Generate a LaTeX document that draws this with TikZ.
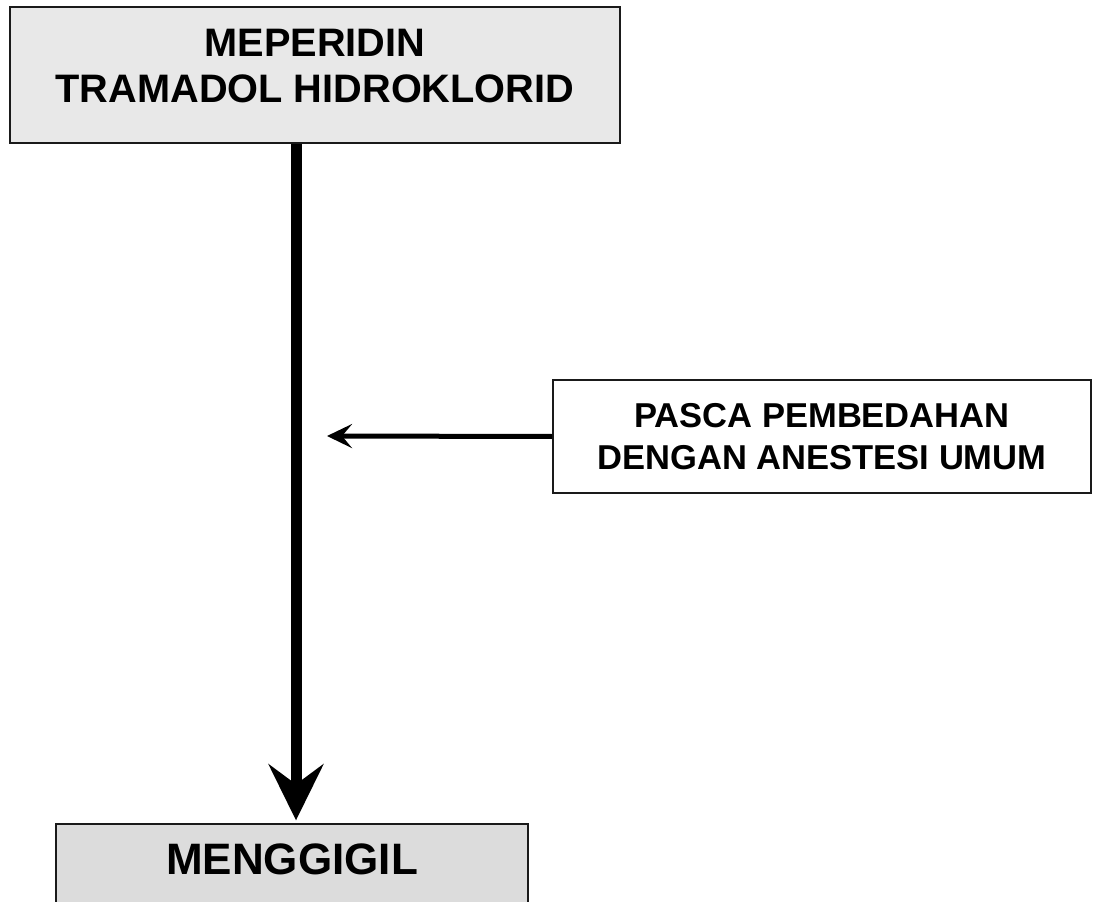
\documentclass[tikz,border=0pt]{standalone}
\usepackage{fontspec}
\setmainfont{Liberation Sans}
\usetikzlibrary{arrows.meta}
\definecolor{kotakatas}{HTML}{E8E8E8}
\definecolor{kotakbawah}{HTML}{DCDCDC}
\definecolor{garis}{HTML}{1A1A1A}

\begin{document}
\begin{tikzpicture}[x=0.75pt,y=-0.75pt,
  kotak/.style={draw=garis,line width=1.5pt,inner sep=0pt,align=center},
  panah/.style={line width=8.25pt,-{Stealth[length=42pt,width=41pt,inset=15pt]}},
  panahkecil/.style={line width=3.75pt,-{Stealth[length=18.75pt,width=18pt,inset=7.5pt]}}]

\useasboundingbox (0,0) rectangle (1096,902);
\clip (0,0) rectangle (1096,902);

% kotak obat
\node[kotak,fill=kotakatas,anchor=north,minimum width=457.5pt,text height=72pt,text depth=30pt,
  font=\fontsize{29.8}{35.1}\selectfont\bfseries] (obat) at (315,6) {MEPERIDIN\\TRAMADOL HIDROKLORID};
\node[kotak,fill=white,anchor=north,minimum width=403.5pt,minimum height=84.75pt,
  font=\fontsize{25.9}{31}\selectfont\bfseries] (pasca) at (822,379) {PASCA PEMBEDAHAN\\DENGAN ANESTESI UMUM};
\node[kotak,fill=kotakbawah,anchor=north,minimum width=354pt,text height=37.5pt,text depth=75pt,
  font=\fontsize{33}{39.6}\selectfont\bfseries] (gigil) at (292,823) {MENGGIGIL};

\coordinate (tuju) at (327,436);
\draw[panah,shorten >=2pt] ([xshift=3pt]gigil.north |- obat.south) -- ([xshift=3pt]gigil.north);
\draw[panahkecil] (pasca.west) -- (tuju);

\end{tikzpicture}
\end{document}
